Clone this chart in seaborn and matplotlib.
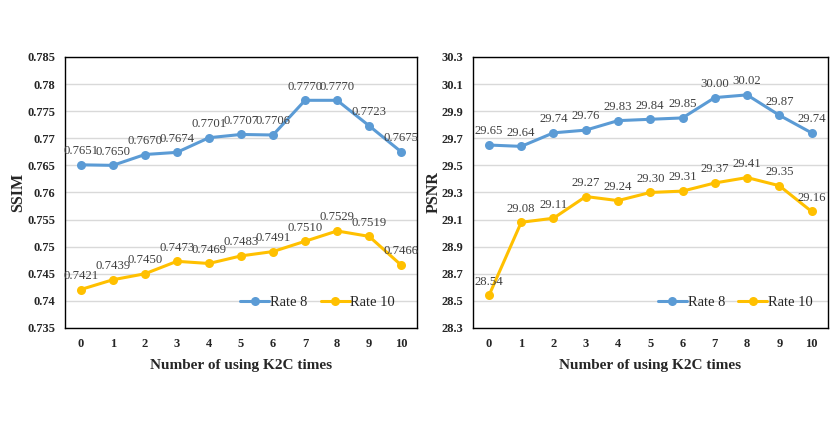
import matplotlib
matplotlib.use("Agg")
import matplotlib.pyplot as plt
import pandas as pd
import seaborn as sns

times = list(range(11))

ssim_rate8 = [0.7651, 0.7650, 0.7670, 0.7674, 0.7701, 0.7707, 0.7706, 0.7770, 0.7770, 0.7723, 0.7675]
ssim_rate10 = [0.7421, 0.7439, 0.7450, 0.7473, 0.7469, 0.7483, 0.7491, 0.7510, 0.7529, 0.7519, 0.7466]

psnr_rate8 = [29.65, 29.64, 29.74, 29.76, 29.83, 29.84, 29.85, 30.00, 30.02, 29.87, 29.74]
psnr_rate10 = [28.54, 29.08, 29.11, 29.27, 29.24, 29.30, 29.31, 29.37, 29.41, 29.35, 29.16]

ssim_ticks = [0.735, 0.74, 0.745, 0.75, 0.755, 0.76, 0.765, 0.77, 0.775, 0.78, 0.785]
ssim_ticklabels = ["0.735", "0.74", "0.745", "0.75", "0.755", "0.76", "0.765", "0.77", "0.775", "0.78", "0.785"]
psnr_ticks = [28.3, 28.5, 28.7, 28.9, 29.1, 29.3, 29.5, 29.7, 29.9, 30.1, 30.3]
psnr_ticklabels = ["28.3", "28.5", "28.7", "28.9", "29.1", "29.3", "29.5", "29.7", "29.9", "30.1", "30.3"]

series_names = ["Rate 8", "Rate 10"]
colors = {"Rate 8": "#5B9BD5", "Rate 10": "#FFC000"}

sns.set_style("white")
plt.rcParams["font.family"] = ["Liberation Serif", "DejaVu Serif"]


def make_df(r8, r10):
    return pd.DataFrame({
        "times": times * 2,
        "value": r8 + r10,
        "series": ["Rate 8"] * len(r8) + ["Rate 10"] * len(r10),
    })


def panel(ax, r8, r10, ticks, ticklabels, ylabel, fmt, leg_x, pad):
    df = make_df(r8, r10)
    sns.lineplot(data=df, x="times", y="value", hue="series", hue_order=series_names,
                 palette=colors, marker="o", markersize=6.5, markeredgewidth=0,
                 linewidth=2.2, ax=ax)
    for vals in (r8, r10):
        for x, y in zip(times, vals):
            ax.annotate(fmt.format(y), (x, y), xytext=(0, 5.5), textcoords="offset points",
                        ha="center", va="bottom", fontsize=9.2, color="#404040")
    ax.set_xlim(-0.5, 10.5)
    ax.set_ylim(ticks[0], ticks[-1])
    ax.set_yticks(ticks)
    ax.set_yticklabels(ticklabels, fontweight="bold", fontsize=9)
    ax.set_xticks(times)
    ax.set_xticklabels([str(t) for t in times], fontweight="bold", fontsize=9)
    ax.yaxis.grid(True, color="#d9d9d9", linewidth=1)
    ax.xaxis.grid(False)
    for s in ax.spines.values():
        s.set_visible(True)
        s.set_color("black")
        s.set_linewidth(1.0)
    ax.tick_params(axis="both", length=0, pad=7)
    ax.set_ylabel(ylabel, fontweight="bold", fontsize=11.5, labelpad=pad)
    ax.set_xlabel("Number of using K2C times", fontweight="bold", fontsize=11, labelpad=7)
    ax.legend(loc="lower right", ncol=2, frameon=False, fontsize=10.5,
              handlelength=2.0, columnspacing=0.9, handletextpad=0.05,
              bbox_to_anchor=(leg_x, 0.02))


fig = plt.figure(figsize=(8.31, 4.33), dpi=100)
ax1 = fig.add_axes([0.078, 0.2425, 0.424, 0.626])
ax2 = fig.add_axes([0.569, 0.2425, 0.427, 0.626])

panel(ax1, ssim_rate8, ssim_rate10, ssim_ticks, ssim_ticklabels, "SSIM", "{:.4f}", 0.975, 1)
panel(ax2, psnr_rate8, psnr_rate10, psnr_ticks, psnr_ticklabels, "PSNR", "{:.2f}", 0.995, 0)

fig.savefig("out.png", dpi=100, facecolor="white")
